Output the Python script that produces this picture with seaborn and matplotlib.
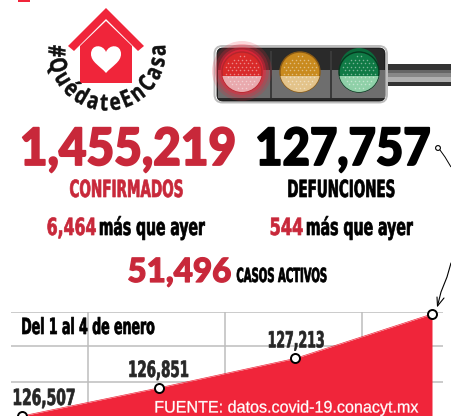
import numpy as np
import pandas as pd
import seaborn as sns
from matplotlib import pyplot as plt
from matplotlib import patheffects as pe
from matplotlib.patches import Circle, FancyBboxPatch, PathPatch, Polygon, Rectangle
from matplotlib.path import Path
from matplotlib.textpath import TextPath
from matplotlib.font_manager import FontProperties
from matplotlib.transforms import Affine2D

days = [1, 2, 3, 4]
deaths = [126507, 126851, 127213, 127757]
death_labels = ["126,507", "126,851", "127,213"]
grid_days = [1.483, 2.485, 3.488]
grid_deaths = [126924, 127365, 127785]

RED = "#c8283a"
BRIGHT = "#f0253a"
HEAVY = "Lato"
NARROW = "Liberation Sans Narrow"


class Squeeze(pe.AbstractPathEffect):
    # squeezes a text to a width in pixels, there is no condensed font here
    def __init__(self, width=None, sx=1.0, sy=1.0, stroke=0.0):
        super().__init__()
        self.width, self.sx, self.sy, self.stroke = width, sx, sy, stroke

    def draw_path(self, renderer, gc, tpath, affine, rgbFace=None):
        xs = tpath.vertices[:, 0]
        mid = (xs.min() + xs.max()) / 2
        sx = self.sx
        if self.width:
            sx = self.width / np.ptp(affine.transform(tpath.vertices)[:, 0])
        t = Affine2D().translate(-mid, 0).scale(sx, self.sy).translate(mid, 0) + affine
        gc0 = renderer.new_gc()
        gc0.copy_properties(gc)
        gc0.set_linewidth(self.stroke)
        if self.stroke:
            gc0.set_foreground(rgbFace)
        renderer.draw_path(gc0, tpath, t, rgbFace)
        gc0.restore()


def fit_size(s, size, width, family, weight):
    # smaller font size when the text is wider than its slot, height comes back through sy
    fp = FontProperties(family=family, weight=weight, size=size)
    natural = TextPath((0, 0), s, prop=fp).get_extents().width * 100 / 72
    new = size * min(1.0, width / natural)
    return new, size / new


def px_text(x0, x1, base, s, size, color="black", family=NARROW, weight="bold", stroke=0.5):
    new, sy = fit_size(s, size, x1 - x0, family, weight)
    over.text((x0 + x1) / 2, base, s, ha="center", va="baseline", fontsize=new, color=color,
              family=family, weight=weight, path_effects=[Squeeze(width=x1 - x0, sy=sy, stroke=stroke)])


sns.set_style("white")
fig = plt.figure(figsize=(4.51, 4.16), dpi=100)

# area chart at the bottom
ax = fig.add_axes([11 / 451, 0, 432 / 451, (416 - 311.7) / 416])
df = pd.DataFrame({"day": days, "deaths": deaths})
ax.fill_between(days, deaths, 126000, color=BRIGHT, lw=0, zorder=2)
sns.lineplot(data=df, x="day", y="deaths", ax=ax, color=BRIGHT, lw=0.5, marker="o", ms=6.5,
             mfc="white", mec="black", mew=1.4, zorder=3, clip_on=False)
ax.set_xlim(1 - 0.0805, 4 + 0.0805)
ax.set_ylim(126507, 127785)
ax.set_xticks(grid_days)
ax.set_yticks(grid_deaths)
ax.grid(True, color="#bdbdbd", lw=1.1, zorder=1)
ax.set_axisbelow(True)
ax.tick_params(length=0, labelbottom=False, labelleft=False)
ax.set_xlabel("")
ax.set_ylabel("")
sns.despine(ax=ax, left=True, bottom=True)

# value labels, first one sits to the right of its point
label_dx = [22, 0, 1]
label_w = [62, 60, 56]
for d, v, s, dx, w in zip(days, deaths, death_labels, label_dx, label_w):
    new, sy = fit_size(s, 16, w, NARROW, "bold")
    ax.annotate(s, (d, v), xytext=(dx * 0.72, 11 * 0.72), textcoords="offset points", ha="center",
                va="baseline", fontsize=new, family=NARROW, weight="bold", annotation_clip=False,
                path_effects=[Squeeze(width=w, sy=sy, stroke=0.5)])

# everything else in pixel coordinates
over = fig.add_axes([0, 0, 1, 1], zorder=5)
over.set_xlim(0, 451)
over.set_ylim(416, 0)
over.axis("off")
over.patch.set_alpha(0)

over.add_patch(Rectangle((18, -1), 12, 3, color=BRIGHT, lw=0))

# house
over.add_patch(Polygon([(106, 8), (144, 46), (138, 51), (106, 19), (74, 51), (68, 46)], color=BRIGHT, lw=0))
over.add_patch(Polygon([(80, 46), (106, 21), (132, 46), (132, 83), (80, 83)], color=BRIGHT, lw=0))
heart = Path([(106, 73), (100, 66), (91, 62), (91, 54), (91, 44), (103, 44), (106, 52),
              (109, 44), (121, 44), (121, 54), (121, 62), (112, 66), (106, 73)],
             [Path.MOVETO] + [Path.CURVE4] * 12)
over.add_patch(PathPatch(heart, fc="white", lw=0))

# hashtag on a half circle
tag = "#QuédateEnCasa"
fp = FontProperties(family="Open Sans", weight="bold", size=17)
adv = [TextPath((0, 0), "n" + c + "n", prop=fp).get_extents().width - 2 * TextPath((0, 0), "n", prop=fp).get_extents().width for c in tag]
adv = np.clip(adv, 4, None)
edges = np.cumsum(np.r_[0, adv])
centers = (edges[:-1] + edges[1:]) / 2
angles = 181 - (centers - centers[0]) / (centers[-1] - centers[0]) * 183
for c, t in zip(tag, angles):
    r = np.radians(t)
    over.text(107 + 52.5 * np.cos(r), 52 + 52.5 * np.sin(r), c, rotation=90 - t, rotation_mode="anchor",
              ha="center", va="center", fontproperties=fp, color="#111111",
              path_effects=[Squeeze(sx=0.8, stroke=0.3)])

# traffic light
for y0, y1, c in [(64, 70, "#333333"), (70, 73, "#666666"), (73, 77, "#888888"), (77, 82, "#b0b0b0"), (82, 86, "#333333")]:
    over.add_patch(Rectangle((388, y0), 63, y1 - y0, color=c, lw=0))
over.add_patch(FancyBboxPatch((214.5, 46), 172.5, 56.5, boxstyle="round,pad=0,rounding_size=8", fc="white", ec="#bcbcbc", lw=1.4))
body = FancyBboxPatch((217, 48), 168, 53, boxstyle="round,pad=0,rounding_size=6", fc="#2a2a2a", ec="#111111", lw=0.6)
over.add_patch(body)
mid_band = Rectangle((217.5, 70), 167, 28, color="#6e6e6e", lw=0)
over.add_patch(mid_band)
for x in [271, 331]:
    over.add_patch(Rectangle((x - 1, 51), 2, 47, color="#3a3a3a", lw=0))

lamps = [(242, "#d92a2a", "#e9a9ad", "#b3262c"), (300, "#c98a1e", "#e3c38a", "#8a5a14"), (359, "#0f7a45", "#8fd0a8", "#063a20")]
for k, (x, top, low, edge) in enumerate(lamps):
    if k == 0:
        for r, a in [(30, 0.18), (27, 0.25), (24, 0.4), (21.5, 0.7)]:
            over.add_patch(Circle((x, 71), r, color="#f0253a", alpha=a, lw=0))
    if k == 2:
        over.add_patch(Circle((x, 67), 19, color="#0c6a3c", lw=0))
    disc = Circle((x, 72), 20, fc=top, ec=edge, lw=1)
    over.add_patch(disc)
    lower = Rectangle((x - 21, 76), 42, 22, fc=low, lw=0)
    over.add_patch(lower)
    lower.set_clip_path(disc)
    gx, gy = np.meshgrid(np.arange(-16, 17, 4), np.arange(-16, 17, 3.5))
    gx = gx + (np.round(gy / 3.5) % 2) * 2
    keep = gx ** 2 + gy ** 2 < 17 ** 2
    dots = over.scatter(x + gx[keep], 72 + gy[keep], s=1.2, color="white", alpha=0.45, lw=0)

# headline numbers
px_text(21, 235, 165, "1,455,219", 37, RED, family=HEAVY, weight="black", stroke=1.3)
px_text(256, 430, 165, "127,757", 37, "black", family=HEAVY, weight="black", stroke=1.3)
px_text(70, 183, 197, "CONFIRMADOS", 17, RED)
px_text(288, 395, 197, "DEFUNCIONES", 17)
px_text(47, 96, 235, "6,464", 17, RED)
px_text(99, 205, 235, "más que ayer", 17)
px_text(270, 303, 235, "544", 17, RED)
px_text(306, 413, 235, "más que ayer", 17)
px_text(128, 231, 282, "51,496", 24, RED, family=HEAVY, weight="black", stroke=0.9)
px_text(237, 327, 282, "CASOS ACTIVOS", 14)
px_text(21, 154, 334, "Del 1 al 4 de enero", 16)
px_text(155, 419, 412.5, "FUENTE: datos.covid-19.conacyt.mx", 12, "white", family="Liberation Sans", weight="normal", stroke=0.2)

# thin arrow, leaves the picture on the right and comes back
over.add_patch(Circle((438, 148), 2.4, fc="white", ec="black", lw=0.8))
over.plot([440, 445, 451], [150, 157, 167], color="black", lw=0.7, solid_capstyle="butt")
over.plot([451, 447, 441, 437.5], [263, 277, 292, 306], color="black", lw=0.8)
over.plot([437, 437.5, 444], [297, 306, 298], color="black", lw=0.8)

fig.savefig("out.png", dpi=100)
